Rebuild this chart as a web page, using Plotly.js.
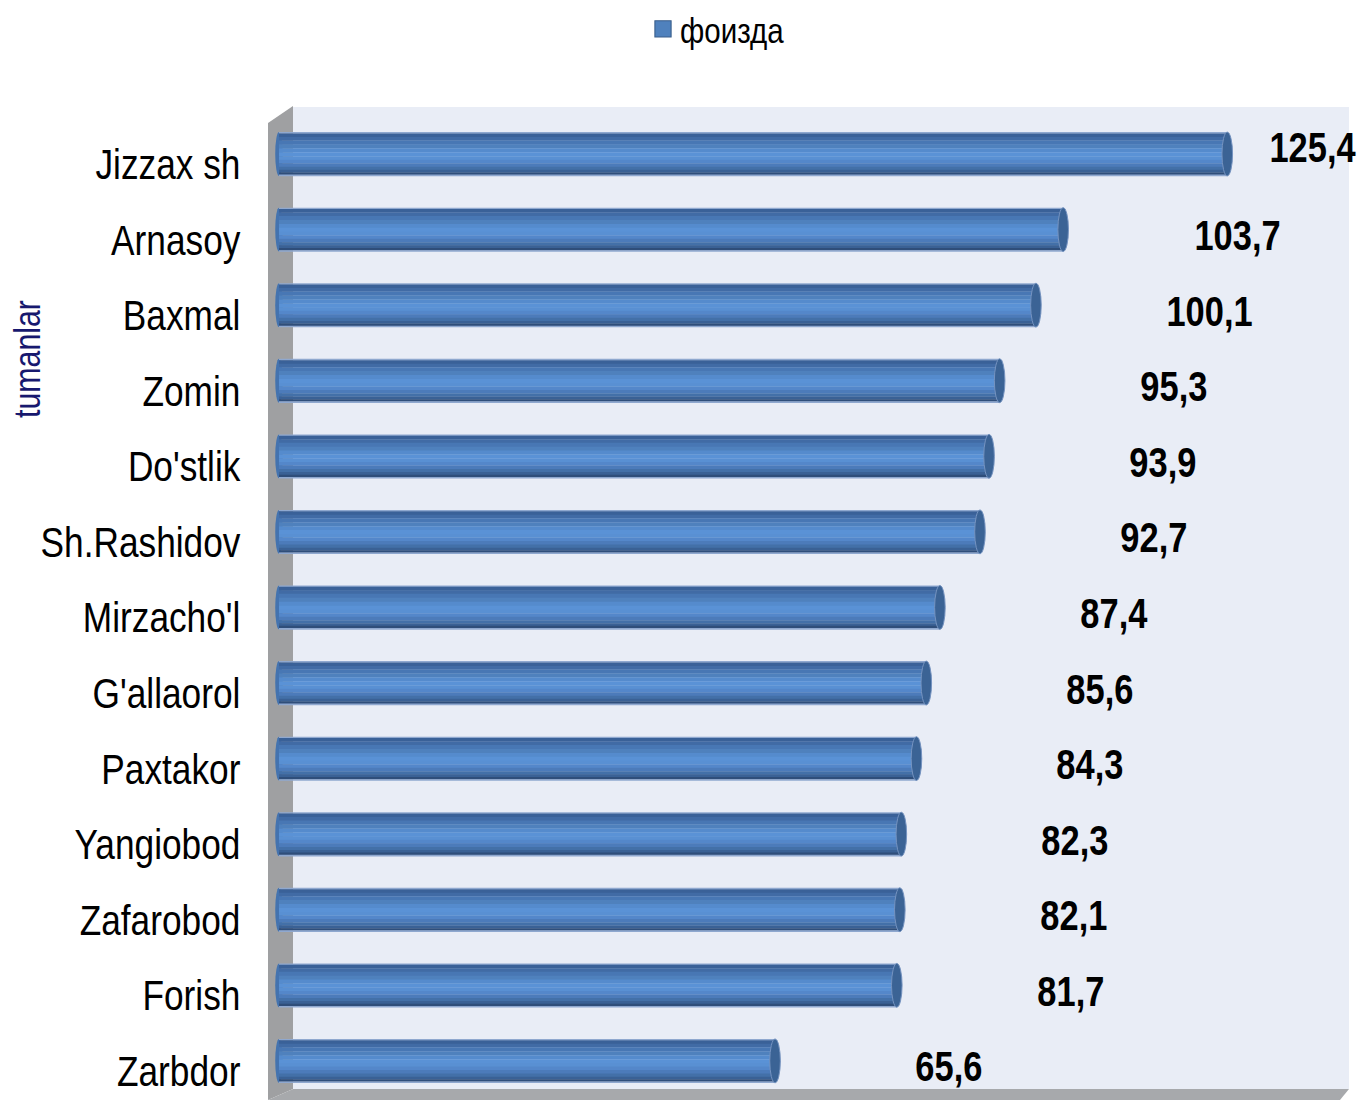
<!DOCTYPE html>
<html>
<head>
<meta charset="utf-8">
<script src="https://cdn.plot.ly/plotly-3.0.1.min.js"></script>
<style>html,body{margin:0;padding:0;background:#fff;}#chart{width:1361px;height:1100px;}</style>
</head>
<body>
<div id="chart"></div>
<script>
// ---- data ----
const categories = ["Jizzax sh","Arnasoy","Baxmal","Zomin","Do'stlik","Sh.Rashidov","Mirzacho'l","G'allaorol","Paxtakor","Yangiobod","Zafarobod","Forish","Zarbdor"];
const values = [125.4,103.7,100.1,95.3,93.9,92.7,87.4,85.6,84.3,82.3,82.1,81.7,65.6];
const valueLabels = values.map(v => v.toFixed(1).replace('.', ','));
const seriesName = "фоизда";
const axisTitle = "tumanlar";

// ---- style ----
const FONT = '"Liberation Sans", Arial, sans-serif';
const NARROW = 0.82;   // horizontal condensing to mimic a narrow face
const idx = categories.map((c, i) => i);
const BAR_W = 0.58;
const BAR_SHIFT = -0.132;
const bands = [
  [0.03,'#8FA8CF'], [0.08,'#3A6198'], [0.08,'#416BA5'], [0.09,'#4877B4'],
  [0.09,'#4F81BD'], [0.09,'#558BCD'], [0.09,'#5A92D6'], [0.08,'#5990D3'],
  [0.08,'#5487CA'], [0.08,'#4C7BBA'], [0.07,'#4370A8'], [0.06,'#3A6195'],
  [0.05,'#2F4E7A'], [0.03,'#8FA8CF']
];

const traces = [];
let acc = 0;
bands.forEach(([f, col]) => {
  traces.push({
    type: 'bar', orientation: 'h',
    x: values, y: idx,
    width: BAR_W * f + 0.004,
    offset: BAR_SHIFT - BAR_W / 2 + BAR_W * acc,
    marker: { color: col, line: { width: 0 } },
    name: seriesName,
    showlegend: col === '#4F81BD',
    hoverinfo: 'x+name'
  });
  acc += f;
});

// plot area in pixels
const L = 270, R = 1349, T = 107, B = 1089;
const X = px => (px - L) / (R - L);
const Y = py => (B - py) / (B - T);

const shapes = [
  { type: 'rect', xref: 'paper', yref: 'paper', x0: X(293), x1: X(1349), y0: Y(1089), y1: Y(107),
    fillcolor: '#E9EDF6', line: { width: 0 }, layer: 'below' },
  { type: 'path', xref: 'paper', yref: 'paper', layer: 'below',
    path: `M ${X(268)},${Y(123)} L ${X(293)},${Y(106)} L ${X(293)},${Y(1089)} L ${X(268)},${Y(1100)} Z`,
    fillcolor: '#9FA0A2', line: { width: 0 } },
  { type: 'path', xref: 'paper', yref: 'paper', layer: 'below',
    path: `M ${X(268)},${Y(1100)} L ${X(293)},${Y(1089)} L ${X(1349)},${Y(1089)} L ${X(1340)},${Y(1100)} Z`,
    fillcolor: '#A7A9AC', line: { width: 0 } }
];
values.forEach((v, i) => {
  shapes.push({ type: 'circle', xref: 'x', yref: 'y', layer: 'below',
    x0: -0.5, x1: 0.5, y0: i + BAR_SHIFT - BAR_W / 2, y1: i + BAR_SHIFT + BAR_W / 2,
    fillcolor: '#4473AF', line: { width: 0 } });
  shapes.push({ type: 'circle', xref: 'x', yref: 'y',
    x0: v - 0.7, x1: v + 0.7, y0: i + BAR_SHIFT - BAR_W / 2, y1: i + BAR_SHIFT + BAR_W / 2,
    fillcolor: '#3B6395', line: { color: '#7593C0', width: 1 } });
});

const XMAX_LABEL = 136.8;
const annotations = values.map((v, i) => {
  const clamped = v + 23 > XMAX_LABEL;
  return {
    x: clamped ? XMAX_LABEL : v + 23,
    y: clamped ? i + BAR_SHIFT - 0.08 : i + BAR_SHIFT + 0.08,
    xref: 'x', yref: 'y', text: valueLabels[i], showarrow: false,
    xanchor: 'center', yanchor: 'middle',
    font: { family: FONT, size: 42, color: '#000000', weight: 'bold' }
  };
});
annotations.push({
  x: X(27), y: Y(359), xref: 'paper', yref: 'paper', text: axisTitle, showarrow: false,
  textangle: -90, xanchor: 'center', yanchor: 'middle',
  font: { family: FONT, size: 37, color: '#17186E' }
});

const layout = {
  width: 1361, height: 1100,
  margin: { l: L, r: 1361 - R, t: T, b: 1100 - B, pad: 0 },
  paper_bgcolor: '#ffffff', plot_bgcolor: 'rgba(0,0,0,0)',
  barmode: 'overlay',
  showlegend: true,
  legend: { xref: 'container', yref: 'container', x: 640 / 1361, y: 1 - 29 / 1100,
    xanchor: 'left', yanchor: 'middle', orientation: 'h',
    bgcolor: 'rgba(0,0,0,0)', font: { family: FONT, size: 36, color: '#000' } },
  xaxis: { range: [-1.19, 141.5], showgrid: false, zeroline: false, showticklabels: false,
    ticks: '', showline: false, fixedrange: true, automargin: false },
  yaxis: { range: [12.24, -0.754], tickmode: 'array', tickvals: idx, ticktext: categories,
    ticks: 'outside', ticklen: 20, tickcolor: 'rgba(0,0,0,0)', showgrid: false, zeroline: false,
    showline: false, tickfont: { family: FONT, size: 43, color: '#000' }, fixedrange: true,
    automargin: false },
  shapes: shapes,
  annotations: annotations
};

Plotly.newPlot('chart', traces, layout, { displayModeBar: false, staticPlot: true }).then(gd => {
  // condense every text horizontally around its own anchor point
  gd.querySelectorAll('svg text').forEach(t => {
    const x = parseFloat(t.getAttribute('x')) || 0;
    const y = parseFloat(t.getAttribute('y')) || 0;
    const tr = t.getAttribute('transform') || '';
    t.setAttribute('transform', `${tr} translate(${x},${y}) scale(${NARROW},1) translate(${-x},${-y})`);
  });
  // larger legend swatch with a darker border, sitting next to its text
  gd.querySelectorAll('.legend .legendpoints path').forEach(p => {
    p.setAttribute('transform', 'translate(23,0) scale(1.35)');
    p.style.stroke = '#385D8A';
    p.style.strokeWidth = '0.8px';
  });
});
</script>
</body>
</html>
